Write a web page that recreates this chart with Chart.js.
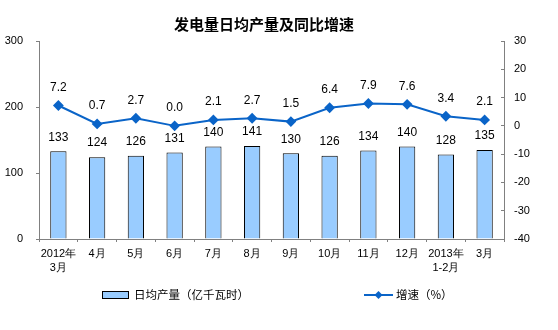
<!DOCTYPE html>
<html>
<head>
<meta charset="utf-8">
<script src="https://cdn.jsdelivr.net/npm/chart.js@4/dist/chart.umd.min.js"></script>
<style>
  html, body { margin: 0; padding: 0; background: #fff; }
  #wrap { width: 558px; height: 330px; }
</style>
</head>
<body>
<div id="wrap"><canvas id="chart"></canvas></div>
<script>
const months = [['2012年', '3月'], '4月', '5月', '6月', '7月', '8月', '9月', '10月', '11月', '12月', ['2013年', '1-2月'], '3月']
const dailyOutput = [133, 124, 126, 131, 140, 141, 130, 126, 134, 140, 128, 135]
const growth = [7.2, 0.7, 2.7, 0.0, 2.1, 2.7, 1.5, 6.4, 7.9, 7.6, 3.4, 2.1]
const leftTicks = [0, 100, 200, 300]
const rightTicks = [-40, -30, -20, -10, 0, 10, 20, 30]

const barFill = '#99CCFF'
const lineBlue = '#0A64C8'
const axisGray = '#808080'
const cjk = '"Noto Sans CJK SC", "Liberation Sans", sans-serif'
const num = '"Liberation Sans", Arial, sans-serif'

// value labels above bars and points, plus title and legend
const extras = {
    id: 'extras',
    afterDatasetsDraw(chart) {
        const ctx = chart.ctx
        ctx.save()
        ctx.fillStyle = '#000'
        ctx.textAlign = 'center'
        ctx.textBaseline = 'middle'
        ctx.font = '12px ' + num
        chart.getDatasetMeta(1).data.forEach((bar, i) => {
            ctx.fillText(String(dailyOutput[i]), bar.x, bar.y - 14)
        })
        chart.getDatasetMeta(0).data.forEach((pt, i) => {
            ctx.fillText(growth[i].toFixed(1), pt.x, pt.y - 18)
        })
        ctx.restore()
    },
    afterDraw(chart) {
        const ctx = chart.ctx
        ctx.save()
        ctx.fillStyle = '#000'
        ctx.textBaseline = 'middle'
        ctx.textAlign = 'center'
        ctx.font = 'bold 15px ' + cjk
        ctx.fillText('发电量日均产量及同比增速', 264, 24)

        // legend
        const ly = 295
        ctx.fillStyle = barFill
        ctx.fillRect(102, ly - 4, 27, 8)
        ctx.strokeStyle = '#000'
        ctx.lineWidth = 1
        ctx.strokeRect(102.5, ly - 3.5, 26, 7)
        ctx.textAlign = 'left'
        ctx.fillStyle = '#000'
        ctx.font = '11.5px ' + cjk
        ctx.fillText('日均产量（亿千瓦时）', 134, ly)

        ctx.strokeStyle = lineBlue
        ctx.lineWidth = 2
        ctx.beginPath()
        ctx.moveTo(364, ly)
        ctx.lineTo(393, ly)
        ctx.stroke()
        ctx.fillStyle = lineBlue
        ctx.beginPath()
        ctx.moveTo(378.5, ly - 4)
        ctx.lineTo(382.5, ly)
        ctx.lineTo(378.5, ly + 4)
        ctx.lineTo(374.5, ly)
        ctx.closePath()
        ctx.fill()
        ctx.fillStyle = '#000'
        ctx.fillText('增速（%）', 396, ly)
        ctx.restore()
    }
}

new Chart(document.getElementById('chart'), {
    type: 'bar',
    data: {
        labels: months,
        datasets: [
            {
                type: 'line',
                label: '增速（%）',
                data: growth,
                yAxisID: 'yRight',
                borderColor: lineBlue,
                backgroundColor: lineBlue,
                borderWidth: 2,
                pointStyle: 'rectRot',
                pointRadius: 4,
                pointHoverRadius: 4,
                tension: 0,
                order: 0
            },
            {
                type: 'bar',
                label: '日均产量（亿千瓦时）',
                data: dailyOutput,
                yAxisID: 'yLeft',
                backgroundColor: barFill,
                borderColor: '#000',
                borderWidth: 1,
                barPercentage: 0.42,
                categoryPercentage: 1,
                order: 1
            }
        ]
    },
    options: {
        responsive: true,
        maintainAspectRatio: false,
        animation: false,
        layout: { padding: { top: 41, left: 0, right: 0, bottom: 0 } },
        plugins: {
            legend: { display: false },
            title: { display: false },
            tooltip: { enabled: false }
        },
        scales: {
            x: {
                offset: true,
                afterFit: s => { s.height = 91 },
                grid: { drawOnChartArea: false, offset: true, tickLength: 3, color: axisGray },
                border: { color: axisGray, width: 1 },
                ticks: { color: '#000', padding: 5, maxRotation: 0, autoSkip: false,
                         font: { family: num, size: 11, lineHeight: 1.27 } }
            },
            yLeft: {
                position: 'left',
                min: 0, max: 300,
                afterFit: s => { s.width = 39 },
                afterBuildTicks: s => { s.ticks = leftTicks.map(v => ({ value: v })) },
                grid: { drawOnChartArea: false, tickLength: 3, color: axisGray },
                border: { color: axisGray, width: 1 },
                ticks: { color: '#000', padding: 13, font: { family: num, size: 11 } }
            },
            yRight: {
                position: 'right',
                min: -40, max: 30,
                afterFit: s => { s.width = 54 },
                afterBuildTicks: s => { s.ticks = rightTicks.map(v => ({ value: v })) },
                grid: { drawOnChartArea: false, tickLength: -3, color: axisGray },
                border: { color: axisGray, width: 1 },
                ticks: { color: '#000', padding: 13, font: { family: num, size: 11 } }
            }
        }
    },
    plugins: [extras]
})
</script>
</body>
</html>
